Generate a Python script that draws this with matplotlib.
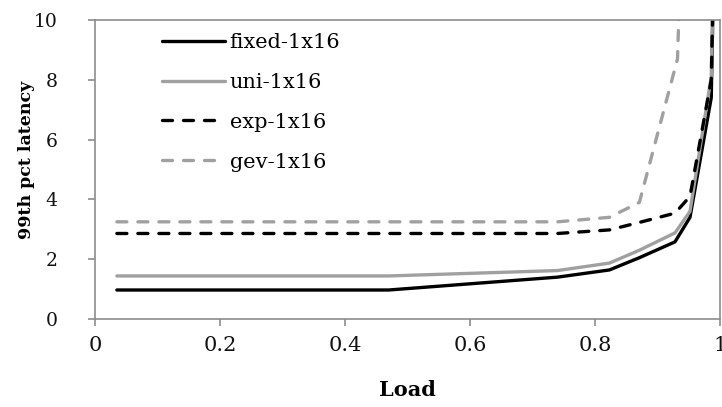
import matplotlib
matplotlib.use("Agg")
import matplotlib.pyplot as plt

load = [0.035, 0.47, 0.74, 0.823, 0.871, 0.928, 0.952, 0.986, 0.992]
fixed = [0.97, 0.97, 1.40, 1.64, 2.05, 2.58, 3.40, 7.40, 14.0]
uni = [1.44, 1.44, 1.62, 1.87, 2.30, 2.88, 3.60, 8.10, 14.0]
exp_ = [2.86, 2.86, 2.86, 2.98, 3.23, 3.54, 4.10, 8.00, 14.0]
gev_load = [0.035, 0.47, 0.74, 0.823, 0.871, 0.932, 0.94]
gev = [3.25, 3.25, 3.25, 3.40, 3.90, 8.70, 14.0]

xticks = [0, 0.2, 0.4, 0.6, 0.8, 1]
xticklabels = ["0", "0.2", "0.4", "0.6", "0.8", "1"]
yticks = [0, 2, 4, 6, 8, 10]

plt.rcParams['font.family'] = ['DejaVu Serif']
W, H = 722, 407
fig = plt.figure(figsize=(W / 100, H / 100), dpi=100)
ax = fig.add_axes([95 / W, 1 - 319 / H, (720 - 95) / W, (319 - 20) / H])

black = "#000000"
grey = "#a0a0a0"
lw = 2.4
ax.plot(load, fixed, color=black, lw=lw, label="fixed-1x16", solid_capstyle="round")
ax.plot(load, uni, color=grey, lw=lw, label="uni-1x16", solid_capstyle="round")
l3, = ax.plot(load, exp_, color=black, lw=lw, label="exp-1x16", dash_capstyle="round")
l4, = ax.plot(gev_load, gev, color=grey, lw=lw, label="gev-1x16", dash_capstyle="round")
for l in (l3, l4):
    l.set_dashes((3.0, 3.3))

ax.set_xlim(0, 1)
ax.set_ylim(0, 10)
ax.set_xticks(xticks)
ax.set_xticklabels(xticklabels)
ax.set_yticks(yticks)
spc = "#8c8c8c"
for s in ax.spines.values():
    s.set_color(spc)
    s.set_linewidth(1.2)
ax.tick_params(axis="both", colors=spc, labelcolor="#111111",
               length=5, width=1.2, direction="out")
ax.tick_params(axis="y", pad=22, labelsize=13.5)
ax.tick_params(axis="x", pad=7, labelsize=15)
ax.set_xlabel("Load", fontsize=15, fontweight="bold")
ax.xaxis.set_label_coords(0.5, -(390 - 319) / 299, transform=ax.transAxes)
ax.xaxis.label.set_verticalalignment("center")
ax.set_ylabel("99th pct latency", fontsize=12.5, fontweight="bold")
ax.yaxis.set_label_coords((26 - 95) / 625, (319 - 160) / 299, transform=ax.transAxes)
ax.yaxis.label.set_verticalalignment("center")

leg = fig.legend(loc="upper left", bbox_to_anchor=(162 / W, 1 - 33 / H), frameon=False,
                 fontsize=15, handlelength=3.0, handletextpad=0.25,
                 labelspacing=1.0, borderaxespad=0, borderpad=0)

fig.savefig("out.png", dpi=100)
